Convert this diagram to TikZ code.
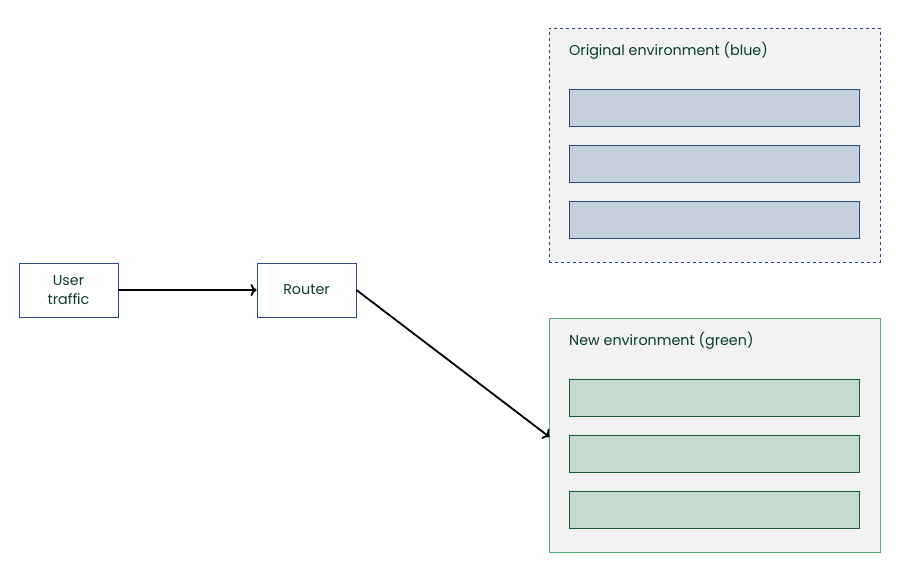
\documentclass[tikz,border=0pt]{standalone}
\usepackage{fontspec}
\setmainfont{Poppins}
\usetikzlibrary{arrows.meta}
\definecolor{txt}{HTML}{0B3D2C}
\definecolor{bluestroke}{HTML}{2B4A7A}
\definecolor{bluefill}{HTML}{C5D0DA}
\definecolor{greenstroke}{HTML}{5AAA7A}
\definecolor{greenbar}{HTML}{1F5E34}
\definecolor{greenfill}{HTML}{C5D9CE}
\definecolor{envfill}{HTML}{F2F2F2}
\tikzset{
  box/.style={draw=bluestroke, line width=0.9pt, fill=white, minimum width=99pt, minimum height=54pt, inner sep=0pt, align=center, text=txt, font=\fontsize{14.3}{19}\selectfont},
  blueenv/.style={draw=bluestroke, dashed, line width=0.9pt, fill=envfill, minimum width=331pt, minimum height=234pt, inner sep=0pt},
  greenenv/.style={draw=greenstroke, line width=0.9pt, fill=envfill, minimum width=331pt, minimum height=234pt, inner sep=0pt},
  bluebar/.style={draw=bluestroke, line width=0.9pt, fill=bluefill, minimum width=290pt, minimum height=37pt, inner sep=0pt},
  greenbarst/.style={draw=greenbar, line width=0.9pt, fill=greenfill, minimum width=290pt, minimum height=37pt, inner sep=0pt},
  envlabel/.style={anchor=west, text=txt, font=\fontsize{14.3}{19}\selectfont, inner sep=0pt},
  conn/.style={line width=1.8pt, -{To[length=6pt,width=12pt,line width=1.8pt]}}
}
\begin{document}
\begin{tikzpicture}[x=1pt,y=-1pt]
\useasboundingbox (0,0) rectangle (898,579);
\node[box] (user) at (68.5,290) {User\\traffic};
\node[box] (router) at (306.5,290) {Router};
\node[blueenv] (blue) at (714.5,145) {};
\node[envlabel] (bluelab) at (569,51) {Original environment (blue)};
\node[bluebar] (b1) at (714,107.5) {};
\node[bluebar] (b2) at (714,163.5) {};
\node[bluebar] (b3) at (714,219.5) {};
\node[greenenv] (green) at (714.5,435) {};
\node[envlabel] (greenlab) at (569,341) {New environment (green)};
\node[greenbarst] (g1) at (714,397.5) {};
\node[greenbarst] (g2) at (714,453.5) {};
\node[greenbarst] (g3) at (714,509.5) {};
\coordinate (gin) at (549.5,437);
\draw[conn] (user.east) -- (router.west);
\draw[conn] (router.east) -- (gin);
\end{tikzpicture}
\end{document}
